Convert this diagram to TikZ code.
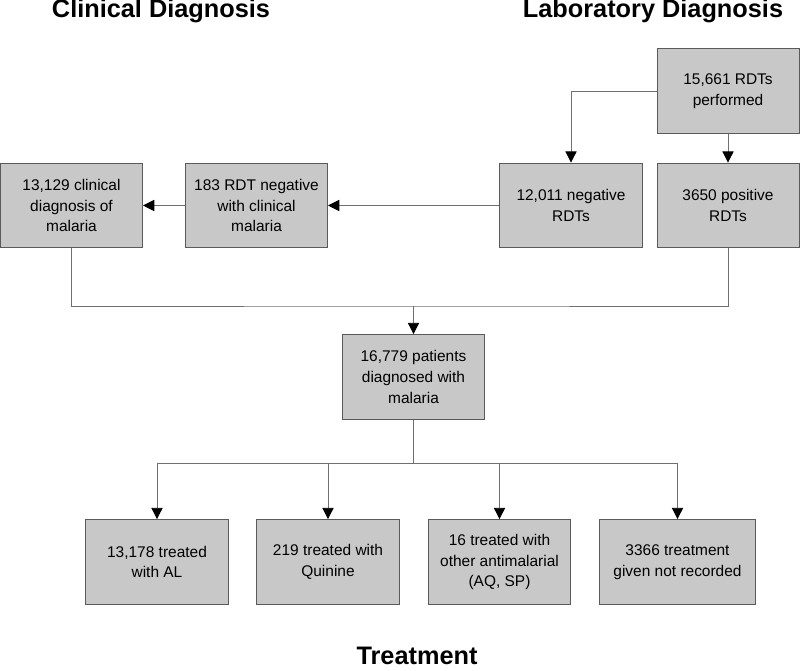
\documentclass[tikz,border=0pt]{standalone}
\usepackage{fontspec}
\setmainfont{Liberation Sans}
\usepackage{tikz}
\usetikzlibrary{arrows.meta,positioning,calc}
\definecolor{boxfill}{HTML}{C8C8C8}
\definecolor{boxline}{HTML}{5A5A5A}
\definecolor{linegray}{HTML}{707070}
\tikzset{
  box/.style={draw=boxline, fill=boxfill, line width=0.7pt, minimum width=3.55cm, minimum height=2.12cm, inner sep=1pt, align=center, font=\fontsize{11}{14.6}\selectfont},
  wbox/.style={box, minimum width=3.9cm},
  line/.style={draw=linegray, line width=0.6pt},
  arr/.style={line, -{Triangle[length=8pt,width=8pt,black]}},
  head/.style={font=\fontsize{18}{20}\selectfont\bfseries, anchor=base, inner sep=0pt}
}
\begin{document}
\begin{tikzpicture}[x=0.025cm,y=0.025cm]
\useasboundingbox (0,0) rectangle (800,670);
\node[head] (tclin) at (161,652) {Clinical Diagnosis};
\node[head] (tlab) at (653,652) {Laboratory Diagnosis};
\node[head] (ttreat) at (417,6) {Treatment};
% diagnosis
\node[box] (perf) at (728,579) {15,661 RDTs\\performed};
\node[box] (neg) at (571,464.5) {12,011 negative\\RDTs};
\node[box] (pos) at (728,464.5) {3650 positive\\RDTs};
\node[box] (rdtneg) at (256.5,464.5) {183 RDT negative\\with clinical\\malaria};
\node[box] (clin) at (71.5,464.5) {13,129 clinical\\diagnosis of\\malaria};
\node[box] (diag) at (413.5,293) {16,779 patients\\diagnosed with\\malaria};
% treatment
\node[box] (al) at (157,108) {13,178 treated\\with AL};
\node[box] (qui) at (328,108) {219 treated with\\Quinine};
\node[box] (oth) at (499.5,108) {16 treated with\\other antimalarial\\(AQ, SP)};
\node[wbox] (nrec) at (677.5,108) {3366 treatment\\given not recorded};
\draw[arr] (perf.west) -| (neg.north);
\draw[arr] (perf.south) -- (pos.north);
\draw[arr] (neg.west) -- (rdtneg.east);
\draw[arr] (rdtneg.west) -- (clin.east);
\coordinate (mrg) at (diag.north |- 0,364);
\draw[line] (clin.south) |- (mrg) -| (pos.south);
\draw[arr] (mrg) -- (diag.north);
\coordinate (brn) at (diag.south |- 0,207);
\draw[line] (diag.south) -- (brn);
\draw[line] (al.north |- brn) -- (nrec.north |- brn);
\foreach \t in {al,qui,oth,nrec}
  \draw[arr] (\t.north |- brn) -- (\t.north);
\end{tikzpicture}
\end{document}
